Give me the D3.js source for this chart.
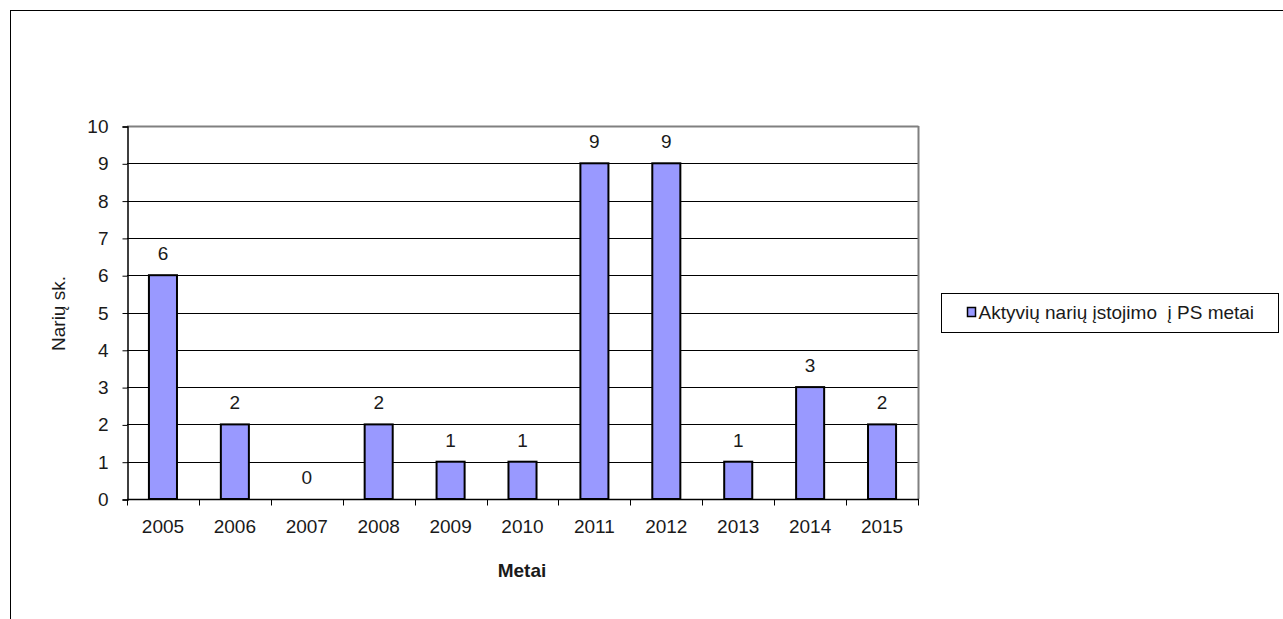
<!DOCTYPE html>
<html>
<head>
<meta charset="utf-8">
<script src="https://cdn.jsdelivr.net/npm/d3@7"></script>
<style>
  html, body { margin: 0; padding: 0; background: #fff; }
  svg { display: block; font-family: "Liberation Sans", Arial, sans-serif; }
  text { white-space: pre; }
</style>
</head>
<body>
<svg id="chart" width="1283" height="619"></svg>
<script>
// Years of joining and number of active members
const years = ["2005", "2006", "2007", "2008", "2009", "2010", "2011", "2012", "2013", "2014", "2015"];
const members = [6, 2, 0, 2, 1, 1, 9, 9, 1, 3, 2];
const yTicks = [0, 1, 2, 3, 4, 5, 6, 7, 8, 9, 10];
const seriesName = "Aktyvių narių įstojimo  į PS metai";
const xTitle = "Metai";
const yTitle = "Narių sk.";

const FS = 19;
const textColor = "#1a1a1a";
const svg = d3.select("#chart");

// Outer chart frame
svg.append("rect")
  .attr("x", 10.5).attr("y", 10.5)
  .attr("width", 1300).attr("height", 700)
  .attr("fill", "none").attr("stroke", "#000").attr("stroke-width", 1);

const plot = { left: 127, right: 918, top: 126, bottom: 499 };

const x = d3.scaleBand().domain(years).range([plot.left, plot.right]).paddingInner(0).paddingOuter(0);
const y = d3.scaleLinear().domain([0, 10]).range([plot.bottom, plot.top]);

// Horizontal gridlines
svg.append("g").selectAll("line")
  .data(yTicks.filter(t => t > 0 && t < 10))
  .join("line")
  .attr("x1", plot.left).attr("x2", plot.right)
  .attr("y1", d => Math.round(y(d)) + 0.5).attr("y2", d => Math.round(y(d)) + 0.5)
  .attr("stroke", "#000").attr("stroke-width", 1);

// Plot area border: top and right in gray
svg.append("line")
  .attr("x1", plot.left).attr("x2", plot.right + 0.5)
  .attr("y1", plot.top + 0.5).attr("y2", plot.top + 0.5)
  .attr("stroke", "#808080").attr("stroke-width", 2);
svg.append("line")
  .attr("x1", plot.right + 0.5).attr("x2", plot.right + 0.5)
  .attr("y1", plot.top).attr("y2", plot.bottom)
  .attr("stroke", "#808080").attr("stroke-width", 2);

// Y axis
const yAxis = d3.axisLeft(y).tickValues(yTicks).tickSize(5).tickPadding(14).tickFormat(d3.format("d"));
const gy = svg.append("g").attr("transform", `translate(${plot.left + 0.5},0.5)`).call(yAxis);
gy.attr("font-family", null).attr("font-size", null);
gy.select(".domain").attr("stroke", "#000").attr("stroke-width", 1.5);
gy.selectAll(".tick line").attr("stroke", "#000");
gy.selectAll(".tick text").attr("font-size", FS).attr("fill", textColor);

// X axis with ticks at category boundaries
const gx = svg.append("g").attr("transform", `translate(0,${plot.bottom + 0.5})`);
gx.append("line").attr("x1", plot.left).attr("x2", plot.right + 1)
  .attr("stroke", "#000").attr("stroke-width", 1.5);
const bounds = years.map(d => x(d)).concat([plot.right]);
gx.selectAll(".bt").data(bounds).join("line")
  .attr("x1", d => Math.round(d) + 0.5).attr("x2", d => Math.round(d) + 0.5)
  .attr("y1", 0).attr("y2", 6).attr("stroke", "#000");
gx.selectAll(".lbl").data(years).join("text")
  .attr("x", d => x(d) + x.bandwidth() / 2)
  .attr("y", 33)
  .attr("text-anchor", "middle")
  .attr("font-size", FS).attr("fill", textColor)
  .text(d => d);

// Bars
const barW = x.bandwidth() * 0.39;
const rows = years.map((d, i) => ({ year: d, value: members[i] }));
svg.append("g").selectAll("rect")
  .data(rows)
  .join("rect")
  .attr("x", d => x(d.year) + (x.bandwidth() - barW) / 2)
  .attr("y", d => y(d.value))
  .attr("width", barW)
  .attr("height", d => y(0) - y(d.value))
  .attr("fill", "#9999FF")
  .attr("stroke", "#000").attr("stroke-width", d => d.value > 0 ? 2 : 0);

// Value labels
svg.append("g").selectAll("text")
  .data(rows)
  .join("text")
  .attr("x", d => x(d.year) + x.bandwidth() / 2)
  .attr("y", d => y(d.value) - 15)
  .attr("text-anchor", "middle")
  .attr("font-size", FS).attr("fill", textColor)
  .text(d => d.value);

// Axis titles
svg.append("text")
  .attr("x", 522).attr("y", 577)
  .attr("text-anchor", "middle").attr("font-size", FS).attr("font-weight", "bold").attr("fill", textColor)
  .text(xTitle);
svg.append("text")
  .attr("transform", `translate(65,${(plot.top + plot.bottom) / 2 + 1}) rotate(-90)`)
  .attr("text-anchor", "middle").attr("font-size", FS).attr("fill", textColor)
  .text(yTitle);

// Legend
const lg = svg.append("g").attr("transform", "translate(941.5,293.5)");
lg.append("rect").attr("width", 337).attr("height", 39)
  .attr("fill", "#fff").attr("stroke", "#000").attr("stroke-width", 1);
lg.append("rect").attr("x", 26).attr("y", 14).attr("width", 8).attr("height", 9)
  .attr("fill", "#9999FF").attr("stroke", "#000").attr("stroke-width", 1.5);
lg.append("text").attr("x", 37).attr("y", 25.5).attr("font-size", FS).attr("fill", textColor)
  .text(seriesName);
</script>
</body>
</html>
